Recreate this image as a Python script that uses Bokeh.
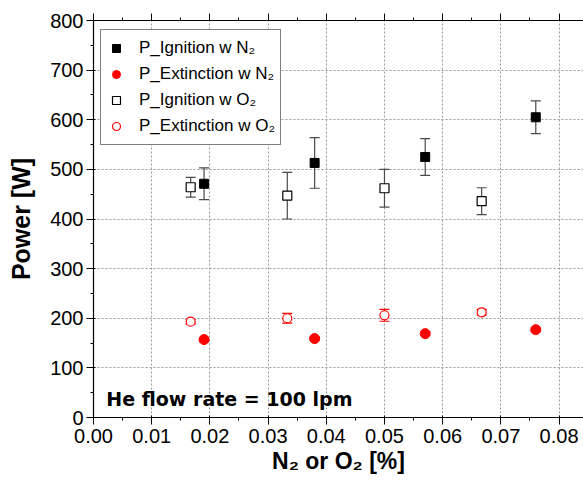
from bokeh.plotting import figure
from bokeh.models import (ColumnDataSource, Whisker, TeeHead, Legend, LegendItem,
                          LinearAxis, SingleIntervalTicker, NumeralTickFormatter,
                          CustomJSTickFormatter, Range1d, Label)
from bokeh.embed import file_html
from bokeh.resources import INLINE

# Gas fraction (x) for each admixture
x_n2 = [0.019, 0.038, 0.057, 0.076]
x_o2 = [0.0167, 0.0333, 0.050, 0.0667]

# Ignition / extinction power [W] and their uncertainties
ign_n2 = [471, 513, 525, 605]
ign_n2_err = [32, 51, 37, 33]
ext_n2 = [157, 159, 169, 177]
ext_n2_err = [3, 3, 3, 3]
ign_o2 = [464, 447, 462, 436]
ign_o2_err = [20, 47, 38, 27]
ext_o2 = [193, 200, 206, 212]
ext_o2_err = [5, 10, 12, 6]

series_labels = ["P_Ignition w N₂", "P_Extinction w N₂",
                 "P_Ignition w O₂", "P_Extinction w O₂"]

LABEL_FONT = "Liberation Sans"

p = figure(width=583, height=481, output_backend="svg", toolbar_location=None,
           x_range=Range1d(0, 0.0842), y_range=Range1d(0, 800),
           min_border_left=93, min_border_right=0, min_border_top=20,
           min_border_bottom=64)
p.outline_line_color = None
p.background_fill_color = "white"
p.border_fill_color = "white"

# axes
for ax in (p.xaxis[0], p.yaxis[0]):
    ax.axis_line_color = "black"
    ax.axis_line_width = 1.2
    ax.major_tick_line_color = "black"
    ax.minor_tick_line_color = "black"
    ax.major_tick_out = 7
    ax.major_tick_in = 2
    ax.minor_tick_out = 3
    ax.minor_tick_in = 0
    ax.major_label_text_font = LABEL_FONT
    ax.major_label_text_font_size = "20px"
    ax.major_label_text_color = "black"
    ax.axis_label_text_font = LABEL_FONT
    ax.axis_label_text_font_style = "bold"
    ax.axis_label_text_color = "black"

p.xaxis[0].ticker = SingleIntervalTicker(interval=0.01, num_minor_ticks=2)
p.xaxis[0].formatter = NumeralTickFormatter(format="0.00")
p.xaxis[0].axis_label = "N₂ or O₂ [%]"
p.xaxis[0].axis_label_text_font_size = "23px"
p.xaxis[0].major_label_standoff = 4
p.xaxis[0].axis_label_standoff = 2

p.yaxis[0].ticker = SingleIntervalTicker(interval=100, num_minor_ticks=2)
p.yaxis[0].axis_label = "Power [W]"
p.yaxis[0].axis_label_text_font_size = "25px"
p.yaxis[0].major_label_standoff = 3
p.yaxis[0].axis_label_standoff = 12

# upper frame edge carries the same ticks, without labels
top = LinearAxis(ticker=SingleIntervalTicker(interval=0.01, num_minor_ticks=2),
                 formatter=CustomJSTickFormatter(code="return ''"),
                 axis_line_color="black", axis_line_width=1.2,
                 major_tick_out=7, major_tick_in=0,
                 minor_tick_out=3, minor_tick_in=0, major_label_standoff=0)
p.add_layout(top, "above")

# dotted grid
for g in (p.xgrid[0], p.ygrid[0]):
    g.grid_line_color = "#9a9a9a"
    g.grid_line_dash = "2 2"
    g.grid_line_width = 1


def make_source(xs, ys, errs):
    return ColumnDataSource(dict(x=xs, y=ys,
                                 lo=[v - e for v, e in zip(ys, errs)],
                                 hi=[v + e for v, e in zip(ys, errs)]))


src_ign_n2 = make_source(x_n2, ign_n2, ign_n2_err)
src_ext_n2 = make_source(x_n2, ext_n2, ext_n2_err)
src_ign_o2 = make_source(x_o2, ign_o2, ign_o2_err)
src_ext_o2 = make_source(x_o2, ext_o2, ext_o2_err)


def error_bars(src, color):
    w = Whisker(base="x", lower="lo", upper="hi", source=src,
                line_color=color, line_width=1.2,
                upper_head=TeeHead(size=10, line_color=color, line_width=1.2),
                lower_head=TeeHead(size=10, line_color=color, line_width=1.2))
    p.add_layout(w)


error_bars(src_ign_n2, "#4a4a4a")
error_bars(src_ign_o2, "#4a4a4a")
error_bars(src_ext_n2, "red")
error_bars(src_ext_o2, "red")

r1 = p.scatter("x", "y", source=src_ign_n2, marker="square", size=9,
               fill_color="black", line_color="black")
r2 = p.scatter("x", "y", source=src_ext_n2, marker="circle", size=10,
               fill_color="red", line_color="red")
r3 = p.scatter("x", "y", source=src_ign_o2, marker="square", size=9,
               fill_color="white", line_color="black", line_width=1.2)
r4 = p.scatter("x", "y", source=src_ext_o2, marker="circle", size=9,
               fill_color="white", line_color="red", line_width=1.2)

legend = Legend(items=[LegendItem(label=series_labels[0], renderers=[r1]),
                       LegendItem(label=series_labels[1], renderers=[r2]),
                       LegendItem(label=series_labels[2], renderers=[r3]),
                       LegendItem(label=series_labels[3], renderers=[r4])],
                location=(7, 272), padding=5, spacing=0, margin=0,
                glyph_width=20, glyph_height=26, label_height=26,
                label_standoff=13, label_text_font=LABEL_FONT,
                label_text_font_size="17px", label_text_color="black",
                border_line_color="black", border_line_width=1,
                background_fill_color="white", background_fill_alpha=1)
p.add_layout(legend)

note = Label(x=0.0022, y=38, text="He flow rate = 100 lpm",
             text_font="DejaVu Sans", text_font_style="bold",
             text_font_size="19px", text_baseline="middle", text_color="black")
p.add_layout(note)

open("out.html", "w").write(file_html(p, INLINE))
